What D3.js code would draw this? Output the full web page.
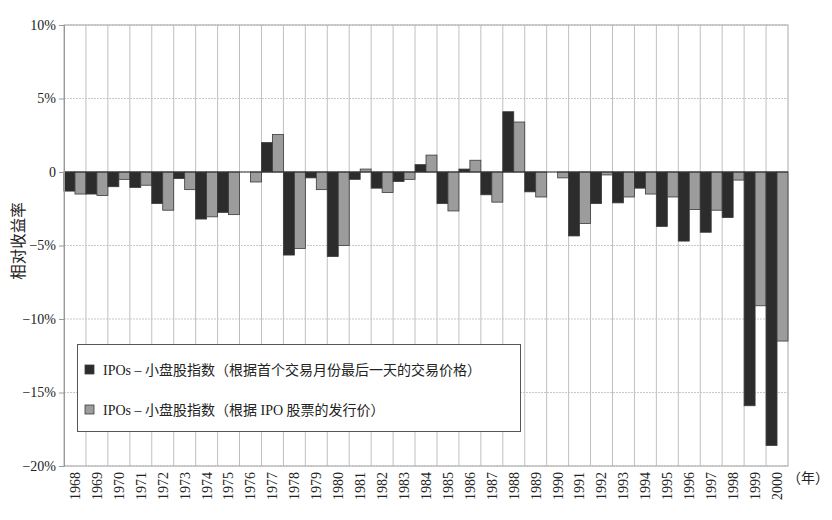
<!DOCTYPE html>
<html><head><meta charset="utf-8">
<script src="https://cdn.jsdelivr.net/npm/d3@7"></script>
<style>
html,body{margin:0;padding:0;background:#fff;}
svg{display:block;}
text{font-family:"Liberation Serif","Noto Sans CJK SC",serif;fill:#222;}
</style></head>
<body>
<svg id="c" width="832" height="520"></svg>
<script>
const years = ["1968","1969","1970","1971","1972","1973","1974","1975","1976","1977","1978","1979","1980","1981","1982","1983","1984","1985","1986","1987","1988","1989","1990","1991","1992","1993","1994","1995","1996","1997","1998","1999","2000"];
const seriesNames = ["IPOs – 小盘股指数（根据首个交易月份最后一天的交易价格）","IPOs – 小盘股指数（根据 IPO 股票的发行价）"];
const firstMonthClose = [-1.3,-1.5,-1.0,-1.05,-2.15,-0.45,-3.2,-2.75,0,2.0,-5.65,-0.4,-5.75,-0.5,-1.1,-0.65,0.5,-2.15,0.2,-1.55,4.1,-1.35,0,-4.35,-2.15,-2.1,-1.1,-3.7,-4.7,-4.1,-3.1,-15.9,-18.6];
const offerPrice = [-1.5,-1.6,-0.5,-0.9,-2.6,-1.2,-3.05,-2.9,-0.68,2.55,-5.2,-1.2,-5.0,0.2,-1.4,-0.5,1.15,-2.65,0.8,-2.05,3.4,-1.7,-0.4,-3.5,-0.2,-1.7,-1.5,-1.7,-2.55,-2.6,-0.55,-9.1,-11.5];
const yTicks = [10,5,0,-5,-10,-15,-20];
const yTickLabels = ["10%","5%","0","−5%","−10%","−15%","−20%"];
const yTitle = "相对收益率";
const xUnit = "（年）";

const svg = d3.select("#c");
const L = 64, R = 788, T = 25, B = 466;
const x = d3.scaleBand().domain(years).range([L, R]).padding(0);
const xs = d3.scaleBand().domain([0,1]).range([0, x.bandwidth()]).padding(0);
const y = d3.scaleLinear().domain([-20, 10]).range([B, T]);
const colors = ["#2c2c2c","#9c9c9c"];

// horizontal gridlines
svg.append("g").selectAll("line").data(yTicks).join("line")
  .attr("x1", L).attr("x2", R).attr("y1", d => y(d)).attr("y2", d => y(d))
  .attr("stroke", "#c8c8c8").attr("stroke-width", 1).attr("stroke-dasharray", "2,1");
// vertical gridlines at year boundaries
svg.append("g").selectAll("line").data(years.slice(1)).join("line")
  .attr("x1", d => x(d)).attr("x2", d => x(d)).attr("y1", T).attr("y2", B)
  .attr("stroke", "#c0c0c0").attr("stroke-width", 1);
// frame
svg.append("rect").attr("x", L).attr("y", T).attr("width", R - L).attr("height", B - T)
  .attr("fill", "none").attr("stroke", "#a8a8a8").attr("stroke-width", 1);

// bars
const data = years.map((yr, i) => ({yr, vals: [firstMonthClose[i], offerPrice[i]]}));
const grp = svg.append("g").selectAll("g").data(data).join("g")
  .attr("transform", d => `translate(${x(d.yr)},0)`);
grp.selectAll("rect").data(d => d.vals.map((v, k) => ({v, k}))).join("rect")
  .attr("x", d => xs(d.k))
  .attr("width", xs.bandwidth())
  .attr("y", d => y(Math.max(0, d.v)))
  .attr("height", d => Math.abs(y(d.v) - y(0)))
  .attr("fill", d => colors[d.k])
  .attr("stroke", "#3a3a3a").attr("stroke-width", 0.8);

// zero line
svg.append("line").attr("x1", L).attr("x2", R).attr("y1", y(0)).attr("y2", y(0))
  .attr("stroke", "#333").attr("stroke-width", 1.2);

// y axis
const yAxis = d3.axisLeft(y).tickValues(yTicks).tickSize(5).tickFormat((d, i) => yTickLabels[i]);
const ya = svg.append("g").attr("transform", `translate(${L},0)`).call(yAxis);
ya.select(".domain").attr("stroke", "#999");
ya.selectAll(".tick line").attr("stroke", "#999");
ya.selectAll(".tick text").attr("font-size", 14).attr("font-family", "Liberation Serif").attr("fill", "#333").attr("x", -8);

// x axis labels
const xAxis = d3.axisBottom(x).tickSize(0);
const xa = svg.append("g").attr("transform", `translate(0,${B})`).call(xAxis);
xa.select(".domain").remove();
xa.selectAll(".tick text")
  .attr("font-size", 14).attr("font-family", "Liberation Serif").attr("fill", "#333")
  .attr("transform", "rotate(-90)")
  .attr("text-anchor", "end").attr("x", -6).attr("y", 0).attr("dy", "0.35em");

svg.append("text").attr("x", 787).attr("y", 483).attr("font-size", 14).attr("fill", "#333").text(xUnit);

// y title
svg.append("text").attr("transform", "translate(24,241) rotate(-90)")
  .attr("text-anchor", "middle").attr("font-size", 15.5).attr("fill", "#333").text(yTitle);

// legend
const lg = svg.append("g");
lg.append("rect").attr("x", 77.5).attr("y", 344.5).attr("width", 443).attr("height", 87)
  .attr("fill", "#fff").attr("stroke", "#555").attr("stroke-width", 1);
const ly = [370, 410];
seriesNames.forEach((s, i) => {
  lg.append("rect").attr("x", 85).attr("y", ly[i] - 5).attr("width", 9).attr("height", 9)
    .attr("fill", colors[i]).attr("stroke", "#3a3a3a").attr("stroke-width", 0.8);
  lg.append("text").attr("x", 103).attr("y", ly[i]).attr("dy", "0.35em")
    .attr("font-size", 14).attr("fill", "#333").text(s);
});
</script>
</body></html>
